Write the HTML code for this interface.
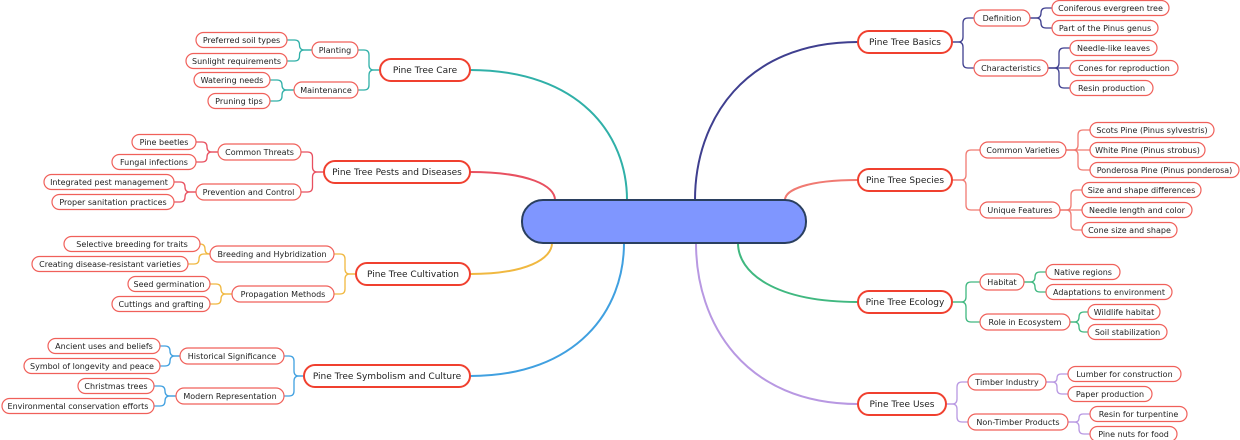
<!DOCTYPE html>
<html><head><meta charset="utf-8">
<style>
html,body{margin:0;padding:0;background:#fff;width:1240px;height:440px;overflow:hidden}
svg text{font-family:"DejaVu Sans","Liberation Sans",sans-serif;fill:#222}
</style></head><body>
<svg id="s" width="1240" height="440" xmlns="http://www.w3.org/2000/svg"></svg>
<script>
var s=document.getElementById('s'),out='';
function node(x1,x2,cy,h,sw,stroke,txt,fs){
 out+='<rect x="'+x1+'" y="'+(cy-h/2)+'" width="'+(x2-x1)+'" height="'+h+'" rx="'+(h/2)+'" fill="#fff" stroke="'+stroke+'" stroke-width="'+sw+'"/>';
 out+='<text x="'+((x1+x2)/2)+'" y="'+(cy+fs*0.36)+'" font-size="'+fs+'" text-anchor="middle">'+txt+'</text>';
}
function elbow(px,py,cx,cy,col,right){
 var mx=right?px+(cx-px)/2:px-(px-cx)/2,r=5,d=cy>py?1:-1,dd=Math.abs(cy-py);
 if(dd<r*2)r=dd/2;
 var p;
 if(dd<0.5)p='M'+px+' '+py+' L'+cx+' '+cy;
 else{var sx=right?1:-1;
 p='M'+px+' '+py+' L'+(mx-sx*r)+' '+py+' Q'+mx+' '+py+' '+mx+' '+(py+d*r)+' L'+mx+' '+(cy-d*r)+' Q'+mx+' '+cy+' '+(mx+sx*r)+' '+cy+' L'+cx+' '+cy;}
 out+='<path d="'+p+'" fill="none" stroke="'+col+'" stroke-width="1.3"/>';
}
var branches=[
 {n:'Pine Tree Basics',x1:858,x2:952,cy:42,c:'#3f3f8f',st:[695,200],R:1,subs:[
  ['Definition',974,1030,18,[['Coniferous evergreen tree',1052,1169,8],['Part of the Pinus genus',1052,1158,28]]],
  ['Characteristics',974,1048,68,[['Needle-like leaves',1070,1157,48],['Cones for reproduction',1070,1178,68],['Resin production',1070,1153,88]]]]},
 {n:'Pine Tree Species',x1:858,x2:952,cy:180,c:'#f07a72',st:[785,200],R:1,subs:[
  ['Common Varieties',980,1066,150,[['Scots Pine (Pinus sylvestris)',1090,1214,130],['White Pine (Pinus strobus)',1090,1205,150],['Ponderosa Pine (Pinus ponderosa)',1090,1239,170]]],
  ['Unique Features',980,1060,210,[['Size and shape differences',1082,1201,190],['Needle length and color',1082,1192,210],['Cone size and shape',1082,1177,230]]]]},
 {n:'Pine Tree Ecology',x1:858,x2:952,cy:302,c:'#40b880',st:[738,243],R:1,subs:[
  ['Habitat',980,1024,282,[['Native regions',1046,1120,272],['Adaptations to environment',1046,1172,292]]],
  ['Role in Ecosystem',980,1070,322,[['Wildlife habitat',1088,1160,312],['Soil stabilization',1088,1167,332]]]]},
 {n:'Pine Tree Uses',x1:858,x2:946,cy:404,c:'#b898e2',st:[696,243],R:1,subs:[
  ['Timber Industry',968,1046,382,[['Lumber for construction',1068,1181,374],['Paper production',1068,1152,394]]],
  ['Non-Timber Products',968,1068,422,[['Resin for turpentine',1090,1187,414],['Pine nuts for food',1090,1177,434]]]]},
 {n:'Pine Tree Care',x1:380,x2:470,cy:70,c:'#30b0a8',st:[627,200],R:0,subs:[
  ['Planting',312,358,50,[['Preferred soil types',196,287,40],['Sunlight requirements',186,287,61]]],
  ['Maintenance',294,358,90,[['Watering needs',194,270,80],['Pruning tips',208,270,101]]]]},
 {n:'Pine Tree Pests and Diseases',x1:324,x2:470,cy:172,c:'#e85060',st:[555,200],R:0,subs:[
  ['Common Threats',218,301,152,[['Pine beetles',132,196,142],['Fungal infections',112,196,162]]],
  ['Prevention and Control',196,301,192,[['Integrated pest management',44,174,182],['Proper sanitation practices',52,174,202]]]]},
 {n:'Pine Tree Cultivation',x1:356,x2:470,cy:274,c:'#f0b840',st:[552,243],R:0,subs:[
  ['Breeding and Hybridization',210,334,254,[['Selective breeding for traits',64,200,244],['Creating disease-resistant varieties',32,188,264]]],
  ['Propagation Methods',232,334,294,[['Seed germination',128,210,284],['Cuttings and grafting',112,210,304]]]]},
 {n:'Pine Tree Symbolism and Culture',x1:304,x2:470,cy:376,c:'#40a0e0',st:[624,243],R:0,subs:[
  ['Historical Significance',180,284,356,[['Ancient uses and beliefs',48,160,346],['Symbol of longevity and peace',24,160,366]]],
  ['Modern Representation',176,284,396,[['Christmas trees',78,154,386],['Environmental conservation efforts',2,154,406]]]]}
];
branches.forEach(function(b){
 var x0=b.st[0],y0=b.st[1],ex=b.R?b.x1:b.x2,ey=b.cy;
 var p='M'+x0+' '+y0+' C'+x0+' '+(y0+(ey-y0)*0.5)+' '+(x0+(ex-x0)*0.3)+' '+ey+' '+ex+' '+ey;
 out+='<path d="'+p+'" fill="none" stroke="'+b.c+'" stroke-width="2"/>';
});
out+='<rect x="522" y="200" width="284" height="43" rx="21" fill="#7f96ff" stroke="#2a3f5f" stroke-width="2"/>';
branches.forEach(function(b){
 b.subs.forEach(function(sb){
  elbow(b.R?b.x2:b.x1,b.cy,b.R?sb[1]:sb[2],sb[3],b.c,b.R);
  sb[4].forEach(function(l){elbow(b.R?sb[2]:sb[1],sb[3],b.R?l[1]:l[2],l[3],b.c,b.R);});
 });
 node(b.x1,b.x2,b.cy,22,2,'#f0402f',b.n,9);
 b.subs.forEach(function(sb){
  node(sb[1],sb[2],sb[3],16,1.2,'#f0605a',sb[0],8);
  sb[4].forEach(function(l){node(l[1],l[2],l[3],15,1.2,'#f0605a',l[0],8);});
 });
});
s.innerHTML=out;
</script>
</body></html>
